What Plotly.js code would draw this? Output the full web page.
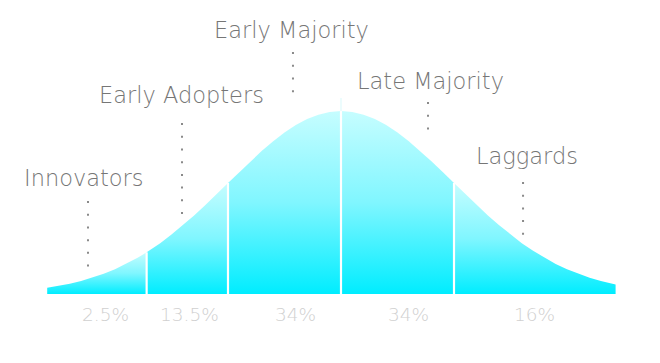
<!DOCTYPE html>
<html>
<head>
<meta charset="utf-8">
<script src="https://cdn.plot.ly/plotly-3.0.1.min.js"></script>
<style>html,body{margin:0;padding:0;background:#fff;}#chart{width:660px;height:363px;}</style>
</head>
<body>
<div id="chart"></div>
<script>
// Curve (x in standard deviations from the mean, y = relative height, peak = 100)
const curveX = [-2.6,-2.5,-2.4,-2.3,-2.2,-2.1,-2.0,-1.9,-1.8,-1.72,-1.7,-1.6,-1.5,-1.4,-1.3,-1.2,-1.1,-1.0,-0.9,-0.8,-0.7,-0.6,-0.5,-0.4,-0.3,-0.2,-0.1,0,
                0.1,0.2,0.3,0.4,0.5,0.6,0.7,0.8,0.9,1.0,1.1,1.2,1.3,1.4,1.5,1.6,1.7,1.8,1.9,2.0,2.1,2.2,2.3,2.4,2.43];
const curveY = [3.41,4.39,5.61,7.10,8.89,11.03,13.53,16.44,19.79,22.78,23.58,27.80,32.47,37.53,42.96,48.68,54.61,60.65,66.69,72.61,78.27,83.53,88.25,92.31,95.60,98.02,99.50,100,
                99.50,98.02,95.60,92.31,88.25,83.53,78.27,72.61,66.69,60.65,54.61,48.68,42.96,37.53,32.47,27.80,23.58,19.79,16.44,13.53,11.03,8.89,7.10,5.61,5.22];
// Segment boundaries
const bounds = [-2.6,-1.72,-1.0,0,1.0,2.43];
// Segment shares
const shares = ['2.5%','13.5%','34%','34%','16%'];
const shareX = [-2.08,-1.341,-0.407,0.593,1.708];
const shareY = -11.3;
// Group labels
const labels = ['Innovators','Early Adopters','Early Majority','Late Majority','Laggards'];
const labelX = [-2.274,-1.412,-0.438,0.792,1.646];
const labelY = [63.2,108.5,144.2,116.4,75.2];
// Dotted leader lines
const dotX = [-2.239,-1.407,-0.425,0.770,1.611];
const dotTop = [50.8,93.4,132.2,104.9,61.2];
const dotBottom = [14.2,43.7,104.4,88.5,31.7];

const gradient = {type:'vertical', colorscale:[[0,'#00edff'],[0.5,'#80f6ff'],[1,'#c6fdff']]};
const traces = [];
for (let s = 0; s < bounds.length - 1; s++) {
  const xs = [], ys = [];
  curveX.forEach((x, i) => { if (x >= bounds[s] - 1e-9 && x <= bounds[s+1] + 1e-9) { xs.push(x); ys.push(curveY[i]); } });
  traces.push({x: xs, y: ys, type:'scatter', mode:'lines', fill:'tozeroy', line:{width:0, color:'#00edff'},
               fillcolor:'#00edff', fillgradient: gradient, hoverinfo:'skip', showlegend:false});
}
// dividers
for (let s = 1; s < bounds.length - 1; s++) {
  const i = curveX.findIndex(x => Math.abs(x - bounds[s]) < 1e-9);
  traces.push({x:[bounds[s], bounds[s]], y:[0, curveY[i]], type:'scatter', mode:'lines',
               line:{width:2.2, color:'#ffffff'}, hoverinfo:'skip', showlegend:false});
}
// faint extension of the center line above the peak
traces.push({x:[0,0], y:[100,107.1], type:'scatter', mode:'lines', line:{width:1.5, color:'#e6fbfc'}, hoverinfo:'skip', showlegend:false});
// dotted leaders
for (let k = 0; k < labels.length; k++) {
  traces.push({x:[dotX[k], dotX[k]], y:[dotTop[k], dotBottom[k]], type:'scatter', mode:'lines',
               line:{width:2, color:'#8a8a8a', dash:'2px,10.7px'}, hoverinfo:'skip', showlegend:false});
}

const labelFont = {family:'"DejaVu Sans", sans-serif', size:22.5, color:'#767676', weight:200};
const shareFont = {family:'"DejaVu Sans", sans-serif', size:18.5, color:'#d0d0d0', weight:200};
const annotations = [];
labels.forEach((t, k) => annotations.push({x: labelX[k], y: labelY[k], xref:'x', yref:'y', text: t, showarrow:false,
  xanchor:'center', yanchor:'middle', font: labelFont}));
shares.forEach((t, k) => annotations.push({x: shareX[k], y: shareY, xref:'x', yref:'y', text: t, showarrow:false,
  xanchor:'center', yanchor:'middle', font: shareFont}));

const layout = {
  width:660, height:363, margin:{l:0, r:0, t:0, b:0},
  paper_bgcolor:'#ffffff', plot_bgcolor:'#ffffff',
  xaxis:{range:[-3.0177, 2.8230], visible:false, fixedrange:true},
  yaxis:{range:[-37.70, 160.66], visible:false, fixedrange:true},
  annotations: annotations, showlegend:false
};
Plotly.newPlot('chart', traces, layout, {staticPlot:true, displayModeBar:false});
</script>
</body>
</html>
